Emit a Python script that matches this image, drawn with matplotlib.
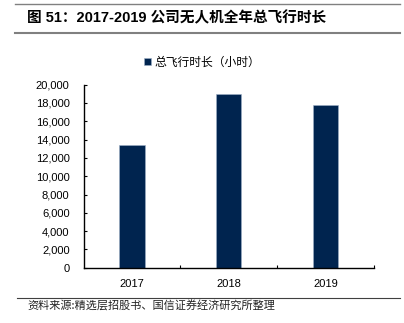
import matplotlib
matplotlib.use("Agg")
import matplotlib.pyplot as plt
from matplotlib.lines import Line2D
from matplotlib.ticker import FuncFormatter, FixedLocator

plt.rcParams['font.family'] = ['Liberation Sans', 'Noto Sans CJK SC', 'DejaVu Sans']

years = ["2017", "2018", "2019"]
flight_hours = [13400, 19000, 17800]
yticks = list(range(0, 20001, 2000))

title = "图 51：2017-2019 公司无人机全年总飞行时长"
series_name = "总飞行时长（小时）"
source = "资料来源:精选层招股书、国信证券经济研究所整理"

bar_color = "#00244F"

fig = plt.figure(figsize=(4.04, 3.23), dpi=100)
ax = fig.add_axes([83.5 / 404, 1 - 267.7 / 323, (374 - 83.5) / 404, (267.7 - 84.7) / 323])

x = range(len(years))
ax.bar(x, flight_hours, width=0.26, color=bar_color, edgecolor="#9FB0C8", linewidth=0.4,
       label=series_name, zorder=2)

ax.set_xlim(-0.5, len(years) - 0.5)
ax.set_ylim(0, 20000)
ax.set_yticks(yticks)
ax.yaxis.set_major_formatter(FuncFormatter(lambda v, p: f"{int(v):,}"))
ax.set_xticks(list(x))
ax.set_xticklabels(years)
ax.xaxis.set_minor_locator(FixedLocator([0.5, 1.5, 2.5]))

for s in ["top", "right"]:
    ax.spines[s].set_visible(False)
for s in ["left", "bottom"]:
    ax.spines[s].set_linewidth(1.0)
    ax.spines[s].set_color("black")

ax.tick_params(axis="y", direction="in", length=2.5, width=0.8, labelsize=8, pad=10)
ax.tick_params(axis="x", which="major", length=0, labelsize=8, pad=8)
ax.tick_params(axis="x", which="minor", direction="in", length=2.5, width=0.8)

leg = ax.legend(loc="upper center", bbox_to_anchor=(0.5, (323 - 45) / 323), bbox_transform=fig.transFigure,
                frameon=False, handlelength=0.6, handleheight=0.6, handletextpad=0.3,
                prop={"family": ["Noto Sans CJK SC"], "size": 8.5})

# header and footer rules
fig.add_artist(Line2D([15 / 404, 400 / 404], [1 - 4 / 323] * 2, color="#808080", linewidth=1.0))
fig.add_artist(Line2D([15 / 404, 400 / 404], [1 - 33 / 323] * 2, color="#808080", linewidth=1.5))
fig.add_artist(Line2D([17 / 404, 400 / 404], [1 - 298 / 323] * 2, color="#404040", linewidth=0.8))

fig.text(27 / 404, 1 - 18 / 323, title, fontsize=10.5, fontweight="bold", va="center", ha="left")
fig.text(27 / 404, 1 - 306 / 323, source, fontsize=8, va="center", ha="left",
         family=["Noto Sans CJK SC"], color="#222222")

fig.savefig("out.png", dpi=100)
